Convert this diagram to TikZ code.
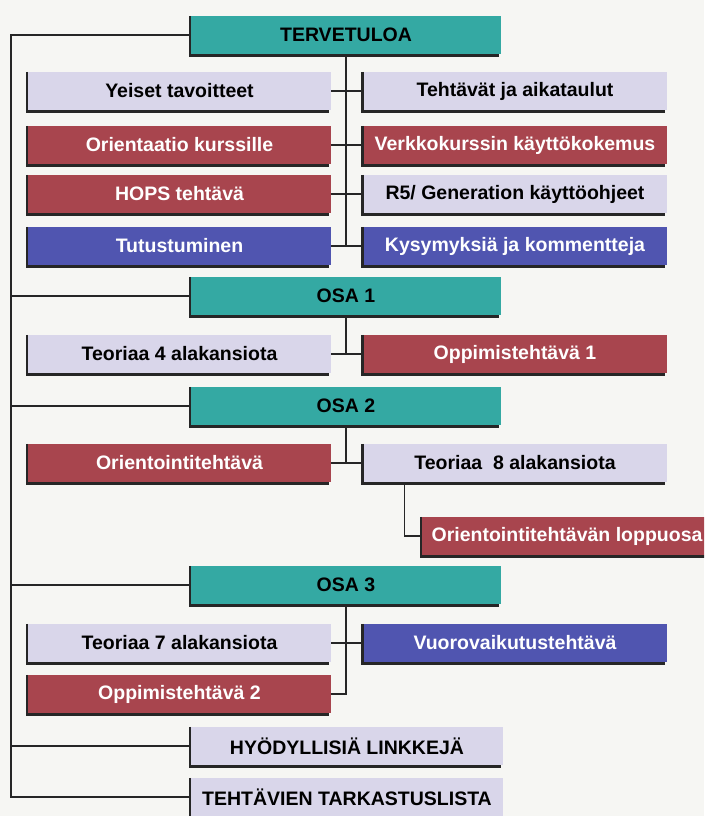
\documentclass[tikz,border=0pt]{standalone}
\usepackage{xcolor}
\usepackage{fontspec}
\setmainfont{Liberation Sans}
\usepackage{tikz}
\definecolor{paper}{HTML}{F6F6F3}
\definecolor{tealbox}{HTML}{34A9A3}
\definecolor{redbox}{HTML}{A8454E}
\definecolor{bluebox}{HTML}{5055B0}
\definecolor{lilac}{HTML}{D9D6EA}

\begin{document}
\begin{tikzpicture}[
  x=1pt, y={(0pt,-1pt)},
  box/.style={minimum height=38pt, inner sep=0pt, align=center, font=\fontsize{19.5}{21}\selectfont\bfseries,
    append after command={\pgfextra{\draw[line width=2.5pt, black!85]
      ([xshift=-1pt]\tikzlastnode.north west) -- ([xshift=-1pt,yshift=-1.5pt]\tikzlastnode.south west)
      -- ([xshift=-2pt,yshift=-1.5pt]\tikzlastnode.south east);}}},
  head/.style={box, fill=tealbox, text=black, minimum width=310pt},
  light/.style={box, fill=lilac, text=black, minimum width=303pt},
  red/.style={box, fill=redbox, text=white, minimum width=303pt},
  blue/.style={box, fill=bluebox, text=white, minimum width=303pt},
  link/.style={line width=1.2pt, black!85}
]
\clip (0,0) rectangle (704,816);
\fill[paper] (0,0) rectangle (704,816);

% welcome block
\node[head] (tervetuloa) at (346,35) {TERVETULOA};
\node[light] (yleiset) at (179.5,91) {Yeiset tavoitteet};
\node[light] (tehtavat) at (515,91) {Tehtävät ja aikataulut};
\node[red] (orientaatio) at (179.5,145) {Orientaatio kurssille};
\node[red] (verkko) at (515,145) {Verkkokurssin käyttökokemus};
\node[red] (hops) at (179.5,194) {HOPS tehtävä};
\node[light] (ohjeet) at (515,194) {R5/ Generation käyttöohjeet};
\node[blue] (tutustuminen) at (179.5,246) {Tutustuminen};
\node[blue] (kysymykset) at (515,246) {Kysymyksiä ja kommentteja};

% part 1
\node[head] (osa1) at (346,296) {OSA 1};
\node[light] (teoria4) at (179.5,354) {Teoriaa 4 alakansiota};
\node[red] (oppimis1) at (515,354) {Oppimistehtävä 1};

% part 2
\node[head] (osa2) at (346,406) {OSA 2};
\node[red] (orientointi) at (179.5,463) {Orientointitehtävä};
\node[light] (teoria8) at (515,463) {Teoriaa~ 8 alakansiota};
\node[red, minimum width=290pt] (loppuosa) at (567,536) {Orientointitehtävän loppuosa};

% part 3
\node[head] (osa3) at (346,585) {OSA 3};
\node[light] (teoria7) at (179.5,643) {Teoriaa 7 alakansiota};
\node[blue] (vuoro) at (515,643) {Vuorovaikutustehtävä};
\node[red] (oppimis2) at (179.5,694) {Oppimistehtävä 2};

% extras
\node[light, minimum width=312pt] (linkit) at (347,746) {HYÖDYLLISIÄ LINKKEJÄ};
\node[light, minimum width=312pt] (lista) at (347,797) {TEHTÄVIEN TARKASTUSLISTA};

% trunk on the left
\coordinate (trunk) at (11,35);
\draw[link] (tervetuloa.west) -- (trunk) |- (lista.west);
\foreach \n in {osa1,osa2,osa3,linkit}
  \draw[link] (\n.west) -- (\n.west -| trunk);

% branches
\draw[link] (tervetuloa.south) -- (tervetuloa.south |- kysymykset.west);
\draw[link] (yleiset.east) -- (tehtavat.west);
\draw[link] (orientaatio.east) -- (verkko.west);
\draw[link] (hops.east) -- (ohjeet.west);
\draw[link] (tutustuminen.east) -- (kysymykset.west);
\draw[link] (osa1.south) -- (osa1.south |- oppimis1.west);
\draw[link] (teoria4.east) -- (oppimis1.west);
\draw[link] (osa2.south) -- (osa2.south |- teoria8.west);
\draw[link] (orientointi.east) -- (teoria8.west);
\draw[link] ([xshift=41pt]teoria8.south west) |- (loppuosa.west);
\draw[link] (osa3.south) |- (oppimis2.east);
\draw[link] (teoria7.east) -- (vuoro.west);
\end{tikzpicture}
\end{document}
